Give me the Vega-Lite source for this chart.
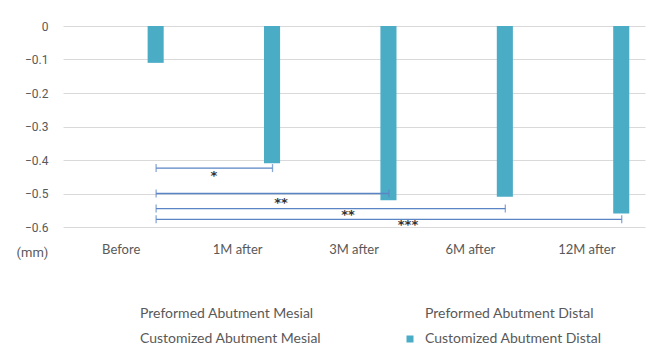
{
  "$schema": "https://vega.github.io/schema/vega-lite/v6.json",
  "width": 582,
  "height": 201,
  "autosize": {"type": "none"},
  "padding": {"left": 63, "top": 26, "right": 27, "bottom": 124},
  "config": {
    "view": {"stroke": null},
    "font": "Roboto",
    "text": {"font": "DejaVu Sans"}
  },
  "datasets": {
    "bars": [
      {"time": "Before", "group": "Customized Abutment Distal", "v": -0.11},
      {"time": "1M after", "group": "Customized Abutment Distal", "v": -0.41},
      {"time": "3M after", "group": "Customized Abutment Distal", "v": -0.52},
      {"time": "6M after", "group": "Customized Abutment Distal", "v": -0.51},
      {"time": "12M after", "group": "Customized Abutment Distal", "v": -0.56}
    ],
    "brackets": [
      {"from": 0.8, "to": 1.8, "v": -0.424},
      {"from": 0.8, "to": 2.8, "v": -0.5},
      {"from": 0.8, "to": 3.8, "v": -0.545},
      {"from": 0.8, "to": 4.8, "v": -0.577}
    ],
    "stars": [
      {"sig": "*", "pos": 1.297, "v": -0.439},
      {"sig": "**", "pos": 1.873, "v": -0.519},
      {"sig": "**", "pos": 2.448, "v": -0.555},
      {"sig": "***", "pos": 2.964, "v": -0.585}
    ]
  },
  "encoding": {
    "y": {
      "field": "v",
      "type": "quantitative",
      "scale": {"domain": [-0.6, 0], "nice": false, "zero": false},
      "axis": {
        "values": [0, -0.1, -0.2, -0.3, -0.4, -0.5, -0.6],
        "labelOverlap": false,
        "format": ".1~f",
        "domain": false,
        "ticks": false,
        "tickSize": 0,
        "labelPadding": 15,
        "labelFontSize": 12,
        "labelColor": "#595959",
        "gridColor": "#d9d9d9",
        "title": "(mm)",
        "titleAngle": 0,
        "titleX": -31,
        "titleY": 226,
        "titleAlign": "center",
        "titleBaseline": "middle",
        "titleFontWeight": "normal",
        "titleFontSize": 13,
        "titleColor": "#595959"
      }
    }
  },
  "layer": [
    {
      "data": {"name": "bars"},
      "mark": {"type": "bar"},
      "encoding": {
        "x": {
          "field": "time",
          "type": "nominal",
          "sort": ["Before", "1M after", "3M after", "6M after", "12M after"],
          "scale": {"paddingInner": 0.27, "paddingOuter": 0.135},
          "axis": {
            "title": null,
            "labelAngle": 0,
            "domain": false,
            "ticks": false,
            "tickSize": 0,
            "labelPadding": 16,
            "labelFontSize": 13,
            "labelColor": "#595959",
            "labelFont": "Lato"
          }
        },
        "xOffset": {
          "field": "group",
          "type": "nominal",
          "scale": {
            "domain": ["Preformed Abutment Mesial", "Preformed Abutment Distal", "Customized Abutment Mesial", "Customized Abutment Distal"],
            "paddingInner": 0.3,
            "paddingOuter": 0
          }
        },
        "color": {
          "field": "group",
          "type": "nominal",
          "scale": {
            "domain": ["Preformed Abutment Mesial", "Customized Abutment Mesial", "Preformed Abutment Distal", "Customized Abutment Distal"],
            "range": ["transparent", "transparent", "transparent", "#4bacc6"]
          },
          "legend": {
            "title": null,
            "orient": "none",
            "legendX": 55,
            "legendY": 281,
            "columns": 2,
            "columnPadding": 81,
            "rowPadding": 11,
            "padding": 0,
            "symbolType": "square",
            "symbolSize": 49,
            "symbolStrokeWidth": 0,
            "labelOffset": 8,
            "labelFontSize": 14,
            "labelFont": "Lato",
            "labelColor": "#595959",
            "labelLimit": 300
          }
        }
      }
    },
    {
      "data": {"name": "brackets"},
      "mark": {"type": "rule", "color": "#5a84c4", "strokeWidth": 1.3},
      "encoding": {
        "x": {"field": "from", "type": "quantitative", "scale": {"domain": [0, 5], "nice": false, "zero": false}, "axis": null},
        "x2": {"field": "to"}
      }
    },
    {
      "data": {"name": "brackets"},
      "mark": {"type": "tick", "orient": "vertical", "color": "#5a84c4", "thickness": 1.3, "size": 8},
      "encoding": {
        "x": {"field": "from", "type": "quantitative", "scale": {"domain": [0, 5], "nice": false, "zero": false}, "axis": null}
      }
    },
    {
      "data": {"name": "brackets"},
      "mark": {"type": "tick", "orient": "vertical", "color": "#5a84c4", "thickness": 1.3, "size": 8},
      "encoding": {
        "x": {"field": "to", "type": "quantitative", "scale": {"domain": [0, 5], "nice": false, "zero": false}, "axis": null}
      }
    },
    {
      "data": {"name": "stars"},
      "mark": {"type": "text", "fontSize": 13, "fontWeight": "bold", "color": "#333333", "baseline": "middle", "dy": 3, "letterSpacing": 1},
      "encoding": {
        "x": {"field": "pos", "type": "quantitative", "scale": {"domain": [0, 5], "nice": false, "zero": false}, "axis": null},
        "text": {"field": "sig"}
      }
    }
  ],
  "resolve": {"scale": {"x": "independent"}}
}
